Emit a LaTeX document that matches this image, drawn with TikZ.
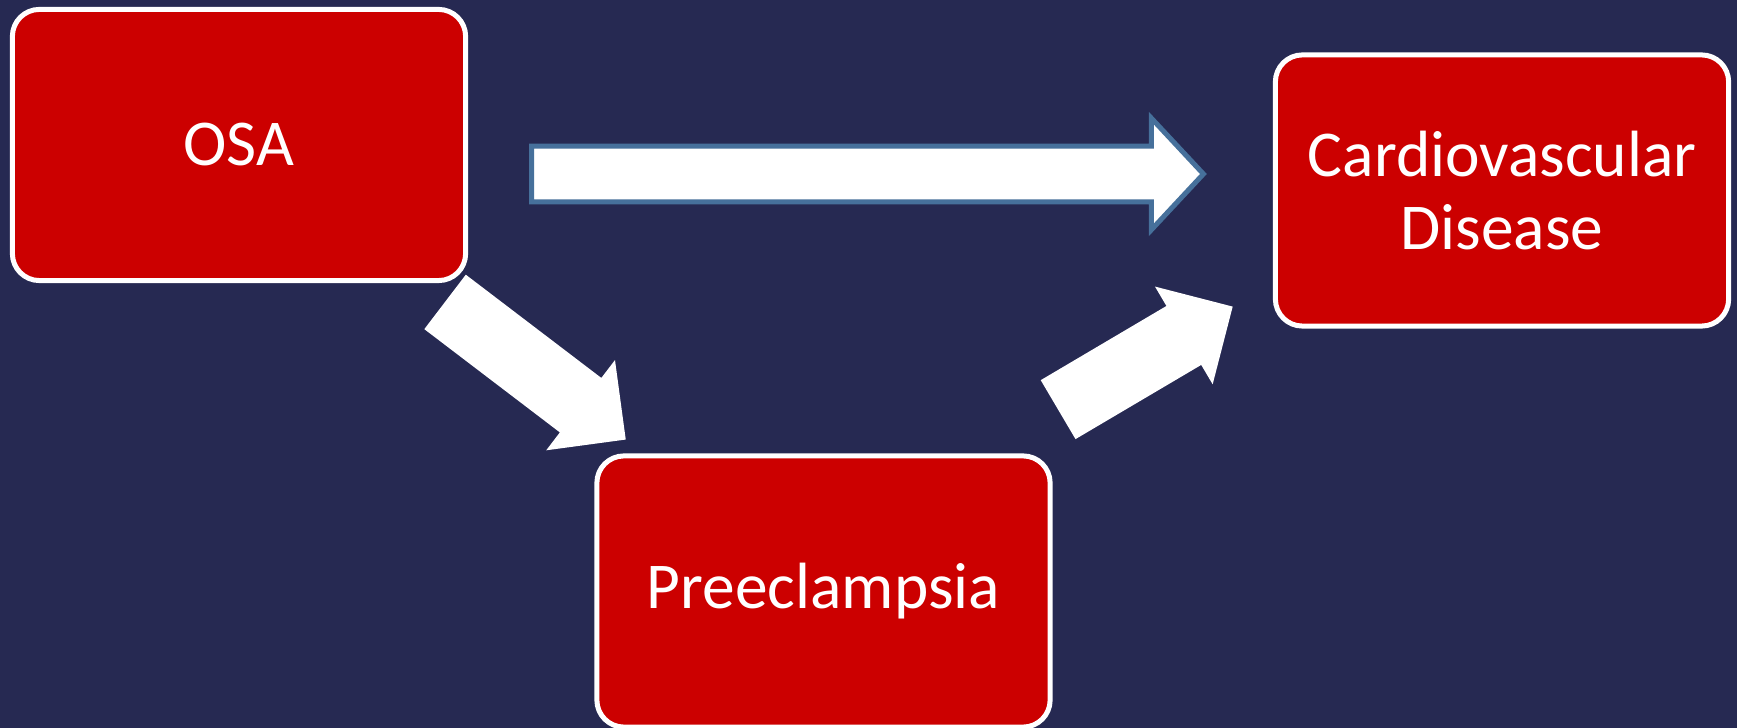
\documentclass[tikz,border=0pt]{standalone}
\usepackage{fontspec}
\setmainfont{Carlito}
\usetikzlibrary{shapes.arrows}
\definecolor{slidenavy}{RGB}{38,41,82}
\definecolor{boxred}{RGB}{204,0,0}
\definecolor{arrowedge}{RGB}{70,112,155}
\tikzset{every node/.style={font=\fontsize{18.6}{20.5}\selectfont, text=white}}
\tikzset{redbox/.style={rectangle, rounded corners=0.27cm, fill=boxred, draw=white, line width=0.05cm, minimum width=4.53cm, minimum height=2.71cm, align=center},
         fatarrow/.style={single arrow, fill=white, inner xsep=0pt, inner ysep=0.335cm, single arrow head extend=0.225cm, single arrow tip angle=90, anchor=tail, sloped, pos=0}}

\begin{document}
\begin{tikzpicture}[x=0.01cm, y=-0.01cm]
   \fill[slidenavy] (0,0) rectangle (1737,728);
   \useasboundingbox (0,0) rectangle (1737,728);
   \node[redbox] (osa) at (239,145)    {OSA};
   \node[redbox] (cvd) at (1502,190.5) {Cardiovascular\\Disease};
   \node[redbox] (pre) at (823.5,591.5) {Preeclampsia};
   \coordinate (t1) at (529,174);     \coordinate (h1) at (1200.5,174);
   \coordinate (t2) at (444.5,301.5); \coordinate (h2) at (625,439);
   \coordinate (t3) at (1057.5,410);  \coordinate (h3) at (1232,307);
   \path (t1) -- node[fatarrow, draw=arrowedge, line width=0.05cm, inner ysep=0.2525cm, single arrow head extend=0.28cm, single arrow tip angle=94, minimum height=6.715cm] (osacvd) {} (h1);
   \path (t2) -- node[fatarrow, minimum height=2.27cm] (osapre) {} (h2);
   \path (t3) -- node[fatarrow, minimum height=2.026cm] (precvd) {} (h3);
\end{tikzpicture}
\end{document}
